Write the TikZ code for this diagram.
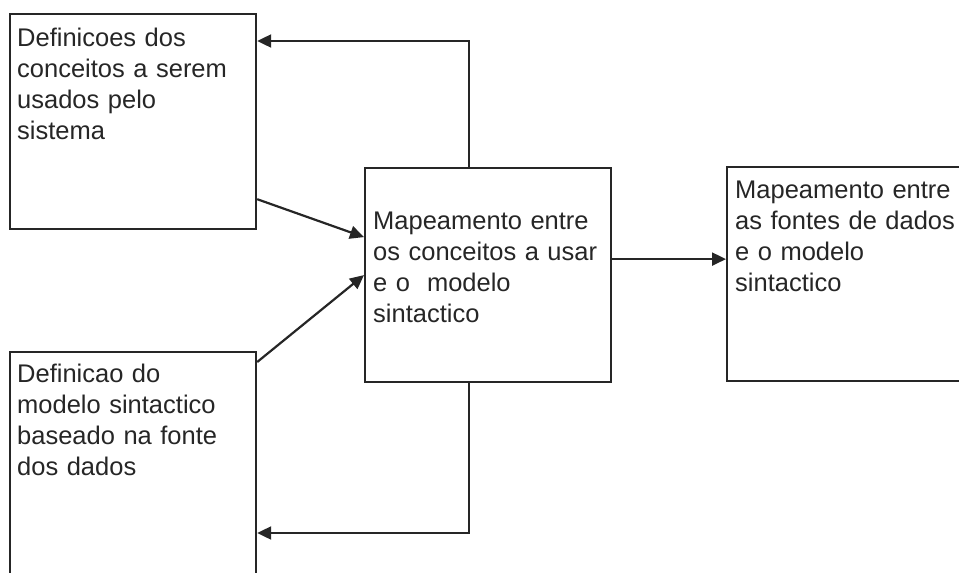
\documentclass[tikz,border=0pt]{standalone}
\usepackage{fontspec}
\setmainfont{Liberation Sans}
\usepackage{tikz}
\usetikzlibrary{positioning}
\usetikzlibrary{arrows.meta}
\tikzset{>={Triangle[length=14pt,width=13pt]}}
\colorlet{ink}{black!85}

\begin{document}
\begin{tikzpicture}[x=1pt,y=-1pt]
		\tikzset{caixa/.style = {draw=ink,line width=2.2pt,rectangle,inner sep=0pt,anchor=north west,minimum width=246pt,minimum height=215pt}}
		\tikzset{texto/.style = {inner sep=0pt,anchor=base west,text width=240pt,align=left,text=ink,font=\fontsize{25.5}{31}\selectfont}}
		\clip (0,0) rectangle (959,573);
		\node[caixa] (defc) at (9,13) {};
		\node[caixa,minimum height=214pt] (mapc) at (364,167) {};
		\node[caixa,minimum height=260pt] (defm) at (9,351) {};
		\node[caixa,minimum width=240pt,minimum height=214pt] (mapd) at (726,166) {};
		\node[texto] (defc-t) at (17,46) {Definicoes dos\\conceitos a serem\\usados pelo\\sistema};
		\node[texto] (mapc-t) at (373,229) {Mapeamento entre\\os conceitos a usar\\e o~ modelo\\sintactico};
		\node[texto] (defm-t) at (17,382) {Definicao do\\modelo sintactico\\baseado na fonte\\dos dados};
		\node[texto] (mapd-t) at (735,198) {Mapeamento entre\\as fontes de dados\\e o modelo\\sintactico};
		\begin{scope}[draw=ink,line width=2.2pt]
		  \draw[->] ([xshift=-19pt]mapc.north) |- ([yshift=-28pt]defc.north east);
		  \draw[->] ([yshift=31pt]defc.south east) -- ([yshift=38pt]mapc.west);
		  \draw[->] ([yshift=-11pt]defm.north east) -- (mapc.west);
		  \draw[->] ([xshift=-19pt]mapc.south) |- ([yshift=-182pt]defm.north east);
		  \draw[->] ([yshift=16pt]mapc.east) -- ([yshift=16pt]mapc.east -| mapd.west);
		\end{scope}
	\end{tikzpicture}
\end{document}
